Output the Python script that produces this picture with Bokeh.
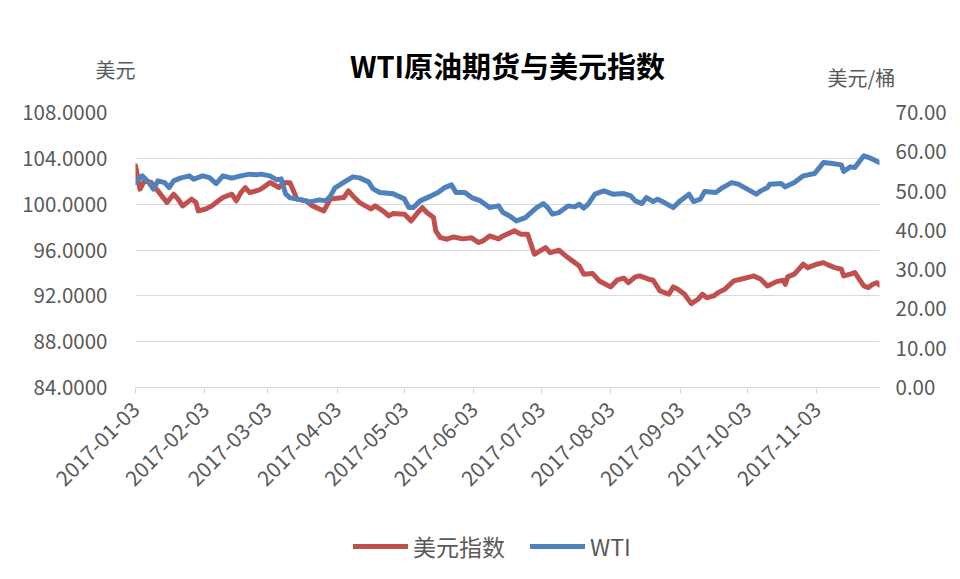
import math
import pandas as pd
from bokeh.plotting import figure
from bokeh.layouts import column
from bokeh.models import (Range1d, LinearAxis, FixedTicker, NumeralTickFormatter,
                          DatetimeTickFormatter, Legend, LegendItem, CustomJSTickFormatter)
from bokeh.core.properties import value
from bokeh.embed import file_html
from bokeh.resources import INLINE

# ---------------- data ----------------
usd_dates = ["2017-01-03", "2017-01-05", "2017-01-07", "2017-01-10", "2017-01-13", "2017-01-17",
             "2017-01-20", "2017-01-22", "2017-01-24", "2017-01-28", "2017-01-30", "2017-01-31",
             "2017-02-03", "2017-02-06", "2017-02-09", "2017-02-11", "2017-02-15", "2017-02-17",
             "2017-02-19", "2017-02-21", "2017-02-23", "2017-02-27", "2017-03-01", "2017-03-04",
             "2017-03-08", "2017-03-10", "2017-03-13", "2017-03-16", "2017-03-20", "2017-03-23",
             "2017-03-28", "2017-03-31", "2017-04-06", "2017-04-08", "2017-04-10", "2017-04-13",
             "2017-04-18", "2017-04-20", "2017-04-24", "2017-04-26", "2017-04-28", "2017-05-03",
             "2017-05-06", "2017-05-09", "2017-05-11", "2017-05-13", "2017-05-16", "2017-05-17",
             "2017-05-19", "2017-05-22", "2017-05-25", "2017-05-29", "2017-06-02", "2017-06-05",
             "2017-06-07", "2017-06-10", "2017-06-14", "2017-06-16", "2017-06-21", "2017-06-24",
             "2017-06-27", "2017-06-30", "2017-07-05", "2017-07-07", "2017-07-11", "2017-07-14",
             "2017-07-17", "2017-07-20", "2017-07-22", "2017-07-26", "2017-07-29", "2017-08-03",
             "2017-08-06", "2017-08-09", "2017-08-11", "2017-08-14", "2017-08-16", "2017-08-20",
             "2017-08-22", "2017-08-25", "2017-08-29", "2017-08-31", "2017-09-02", "2017-09-05",
             "2017-09-08", "2017-09-11", "2017-09-13", "2017-09-15", "2017-09-18", "2017-09-20",
             "2017-09-23", "2017-09-27", "2017-09-30", "2017-10-03", "2017-10-06", "2017-10-09",
             "2017-10-12", "2017-10-16", "2017-10-19", "2017-10-20", "2017-10-21", "2017-10-24",
             "2017-10-28", "2017-10-30", "2017-11-03", "2017-11-06", "2017-11-08", "2017-11-11",
             "2017-11-14", "2017-11-15", "2017-11-18", "2017-11-20", "2017-11-24", "2017-11-26",
             "2017-11-28", "2017-11-30", "2017-12-01"]
usd_values = [103.35, 101.31, 102.03, 101.89, 101.16, 100.14,
              100.87, 100.44, 99.85, 100.44, 100.14, 99.41,
              99.56, 99.85, 100.29, 100.58, 100.87, 100.29,
              101.01, 101.45, 101.01, 101.22, 101.45, 101.89,
              101.45, 101.89, 101.86, 100.46, 100.29, 99.85,
              99.41, 100.46, 100.58, 101.16, 100.72, 100.14,
              99.59, 99.85, 99.33, 98.98, 99.18, 99.13,
              98.54, 99.27, 99.70, 99.27, 98.83, 97.67,
              97.08, 96.94, 97.14, 96.97, 97.06, 96.65,
              96.79, 97.23, 96.97, 97.23, 97.67, 97.38,
              97.38, 95.63, 96.21, 95.77, 95.98, 95.48,
              95.05, 94.61, 93.89, 93.94, 93.30, 92.78,
              93.39, 93.54, 93.15, 93.65, 93.74, 93.45,
              93.36, 92.43, 92.14, 92.78, 92.58, 92.14,
              91.32, 91.70, 92.14, 91.84, 91.99, 92.28,
              92.58, 93.30, 93.45, 93.59, 93.74, 93.45,
              92.86, 93.24, 93.36, 93.01, 93.65, 93.89,
              94.76, 94.46, 94.76, 94.90, 94.70, 94.46,
              94.32, 93.74, 93.89, 94.03, 92.86, 92.72,
              93.01, 93.15, 92.95]

wti_dates = ["2017-01-03", "2017-01-06", "2017-01-09", "2017-01-11", "2017-01-13", "2017-01-16",
             "2017-01-18", "2017-01-20", "2017-01-23", "2017-01-27", "2017-01-29", "2017-02-02",
             "2017-02-05", "2017-02-08", "2017-02-11", "2017-02-15", "2017-02-19", "2017-02-23",
             "2017-02-26", "2017-02-28", "2017-03-04", "2017-03-07", "2017-03-09", "2017-03-11",
             "2017-03-13", "2017-03-18", "2017-03-22", "2017-03-26", "2017-03-29", "2017-03-31",
             "2017-04-02", "2017-04-07", "2017-04-10", "2017-04-13", "2017-04-17", "2017-04-19",
             "2017-04-22", "2017-04-28", "2017-05-03", "2017-05-05", "2017-05-07", "2017-05-10",
             "2017-05-15", "2017-05-18", "2017-05-21", "2017-05-24", "2017-05-26", "2017-05-30",
             "2017-06-02", "2017-06-06", "2017-06-10", "2017-06-14", "2017-06-16", "2017-06-19",
             "2017-06-22", "2017-06-26", "2017-07-01", "2017-07-04", "2017-07-06", "2017-07-08",
             "2017-07-11", "2017-07-15", "2017-07-18", "2017-07-20", "2017-07-22", "2017-07-24",
             "2017-07-27", "2017-07-31", "2017-08-04", "2017-08-09", "2017-08-12", "2017-08-14",
             "2017-08-17", "2017-08-19", "2017-08-22", "2017-08-24", "2017-08-27", "2017-08-31",
             "2017-09-03", "2017-09-07", "2017-09-09", "2017-09-12", "2017-09-14", "2017-09-19",
             "2017-09-22", "2017-09-26", "2017-09-29", "2017-10-03", "2017-10-07", "2017-10-09",
             "2017-10-12", "2017-10-13", "2017-10-18", "2017-10-20", "2017-10-24", "2017-10-28",
             "2017-11-02", "2017-11-06", "2017-11-10", "2017-11-14", "2017-11-15", "2017-11-18",
             "2017-11-20", "2017-11-24", "2017-11-27", "2017-12-01"]
wti_values = [52.16, 53.87, 52.16, 50.48, 52.60, 52.16,
              50.89, 52.60, 53.29, 53.87, 53.03, 53.87,
              53.44, 51.91, 53.87, 53.29, 53.87, 54.31,
              54.13, 54.31, 53.87, 52.85, 53.11, 49.29,
              48.27, 47.76, 47.25, 47.76, 47.50, 48.78,
              50.82, 52.60, 53.62, 53.36, 52.34, 50.56,
              49.62, 49.29, 48.01, 45.80, 45.80, 47.50,
              48.78, 49.62, 50.89, 51.58, 49.62, 49.62,
              48.34, 47.50, 45.80, 46.23, 44.52, 43.68,
              42.41, 43.25, 45.80, 46.82, 45.80, 44.12,
              44.52, 46.23, 45.98, 46.66, 45.64, 46.66,
              49.21, 50.05, 49.21, 49.36, 48.78, 47.50,
              46.82, 48.34, 47.33, 47.94, 47.07, 45.80,
              47.50, 49.21, 47.33, 47.94, 49.87, 49.62,
              50.89, 52.16, 51.76, 50.48, 49.21, 50.05,
              50.89, 51.76, 51.91, 51.07, 52.16, 53.87,
              54.46, 57.26, 57.00, 56.67, 54.97, 56.16,
              55.99, 58.97, 58.38, 57.26]

x_tick_labels = ["2017-01-03", "2017-02-03", "2017-03-03", "2017-04-03", "2017-05-03", "2017-06-03",
                 "2017-07-03", "2017-08-03", "2017-09-03", "2017-10-03", "2017-11-03"]
left_ticks = [84, 88, 92, 96, 100, 104, 108]
right_ticks = [0, 10, 20, 30, 40, 50, 60, 70]
x_start, x_end = "2017-01-03", "2017-12-01"

title_text = "WTI原油期货与美元指数"
left_unit = "美元"
right_unit = "美元/桶"
series_names = ["美元指数", "WTI"]

# ---------------- styling ----------------
FONT = "Noto Sans CJK SC"
GRAY = "#595959"
GRID = "#D9D9D9"
RED = "#C0504D"
BLUE = "#4F81BD"
W = 952            # 135 left border + 744 frame + 73 right border
HEADER_H = 94


def ms(d):
    return pd.Timestamp(d).value / 1e6


def plain(fig):
    fig.xgrid.visible = False
    fig.ygrid.visible = False
    fig.outline_line_color = None
    fig.background_fill_color = "white"
    fig.border_fill_color = "white"


def unit_axis(ax, standoff):
    ax.axis_line_color = None
    ax.major_tick_line_color = None
    ax.minor_tick_line_color = None
    ax.major_tick_out = 0
    ax.major_tick_in = 0
    ax.major_label_text_font = FONT
    ax.major_label_text_font_size = "20px"
    ax.major_label_text_color = GRAY
    try:
        ax.major_label_standoff = standoff
    except Exception:
        ax.major_label_standoff = 0


# ---------------- header: title and axis units ----------------
hdr = figure(width=W, height=HEADER_H, x_range=Range1d(0, 1), y_range=Range1d(0, HEADER_H),
             min_border=0, toolbar_location=None, output_backend="svg", x_axis_location=None)
plain(hdr)
hdr.text(x=[0.5], y=[HEADER_H - 64], text=[title_text], text_align="center",
         text_baseline="middle", text_font=value(FONT), text_font_size=value("29px"),
         text_font_style="bold", text_color="#000000")
lax = hdr.left[0]
lax.ticker = FixedTicker(ticks=[HEADER_H - 90])
lax.formatter = CustomJSTickFormatter(args=dict(labels=[left_unit]), code="return labels[index]")
unit_axis(lax, 0)
hrax = LinearAxis(ticker=FixedTicker(ticks=[HEADER_H - 82]),
                  formatter=CustomJSTickFormatter(args=dict(labels=[right_unit]),
                                                  code="return labels[index]"))
unit_axis(hrax, -52)
hdr.add_layout(hrax, "right")

# ---------------- main chart ----------------
usd_x = pd.to_datetime(usd_dates)
wti_x = pd.to_datetime(wti_dates)

p = figure(frame_width=744, frame_height=275, x_axis_type="datetime", output_backend="svg",
           toolbar_location=None,
           x_range=Range1d(ms(x_start), ms(x_end)),
           y_range=Range1d(left_ticks[0], left_ticks[-1]),
           min_border_left=135, min_border_right=73, min_border_top=18, min_border_bottom=120)
p.extra_y_ranges = {"wti": Range1d(right_ticks[0], right_ticks[-1])}
p.outline_line_color = None
p.background_fill_color = "white"
p.border_fill_color = "white"

# x axis
xax = p.below[0]
xax.ticker = FixedTicker(ticks=[ms(t) for t in x_tick_labels])
fmt = "%Y-%m-%d"
xax.formatter = DatetimeTickFormatter(microseconds=fmt, milliseconds=fmt, seconds=fmt,
                                      minsec=fmt, minutes=fmt, hourmin=fmt, hours=fmt,
                                      days=fmt, months=fmt, years=fmt,
                                      strip_leading_zeros=False)
xax.major_label_orientation = math.pi / 4
xax.axis_line_color = GRID
xax.major_tick_line_color = GRID
xax.major_tick_out = 6
xax.major_tick_in = 0
xax.minor_tick_line_color = None
xax.major_label_text_font = FONT
xax.major_label_text_font_size = "21px"
xax.major_label_text_color = GRAY
xax.major_label_standoff = 12
p.xgrid.visible = False

# left axis
yax = p.left[0]
yax.ticker = FixedTicker(ticks=left_ticks)
yax.formatter = NumeralTickFormatter(format="0.0000")
yax.axis_line_color = None
yax.major_tick_line_color = None
yax.minor_tick_line_color = None
yax.major_label_text_font = FONT
yax.major_label_text_font_size = "20.5px"
yax.major_label_text_color = GRAY
yax.major_label_standoff = 22
p.ygrid.ticker = FixedTicker(ticks=left_ticks)
p.ygrid.grid_line_color = GRID
p.ygrid.grid_line_width = 1

# right axis
rax = LinearAxis(y_range_name="wti", ticker=FixedTicker(ticks=right_ticks),
                 formatter=NumeralTickFormatter(format="0.00"))
rax.axis_line_color = None
rax.major_tick_line_color = None
rax.minor_tick_line_color = None
rax.major_label_text_font = FONT
rax.major_label_text_font_size = "20.5px"
rax.major_label_text_color = GRAY
rax.major_label_standoff = 10
p.add_layout(rax, "right")

# lines
p.line(usd_x, usd_values, color=RED, line_width=5, line_join="round", line_cap="round")
p.line(wti_x, wti_values, color=BLUE, line_width=5, line_join="round", line_cap="round",
       y_range_name="wti")

# ---------------- legend strip ----------------
leg = figure(width=W, height=56, x_range=Range1d(0, 1), y_range=Range1d(0, 1),
             min_border=0, toolbar_location=None, output_backend="svg",
             x_axis_location=None, y_axis_location=None)
plain(leg)
# swatch renderers (kept outside the visible range; only their legend glyphs show)
k_usd = leg.line([0, 1], [-5, -5], color=RED, line_width=5, line_cap="round")
k_wti = leg.line([0, 1], [-5, -5], color=BLUE, line_width=5, line_cap="round")
legend = Legend(items=[LegendItem(label=series_names[0], renderers=[k_usd]),
                       LegendItem(label=series_names[1], renderers=[k_wti])],
                orientation="horizontal", location=(218, 0))
legend.label_text_font = FONT
legend.label_text_font_size = "23px"
legend.label_text_color = GRAY
legend.border_line_color = None
legend.background_fill_alpha = 0
legend.glyph_width = 55
legend.label_standoff = 5
legend.spacing = 25
legend.margin = 0
legend.padding = 2
leg.add_layout(legend, "center")

layout = column(hdr, p, leg, spacing=0)
open("out.html", "w").write(file_html(layout, INLINE))
